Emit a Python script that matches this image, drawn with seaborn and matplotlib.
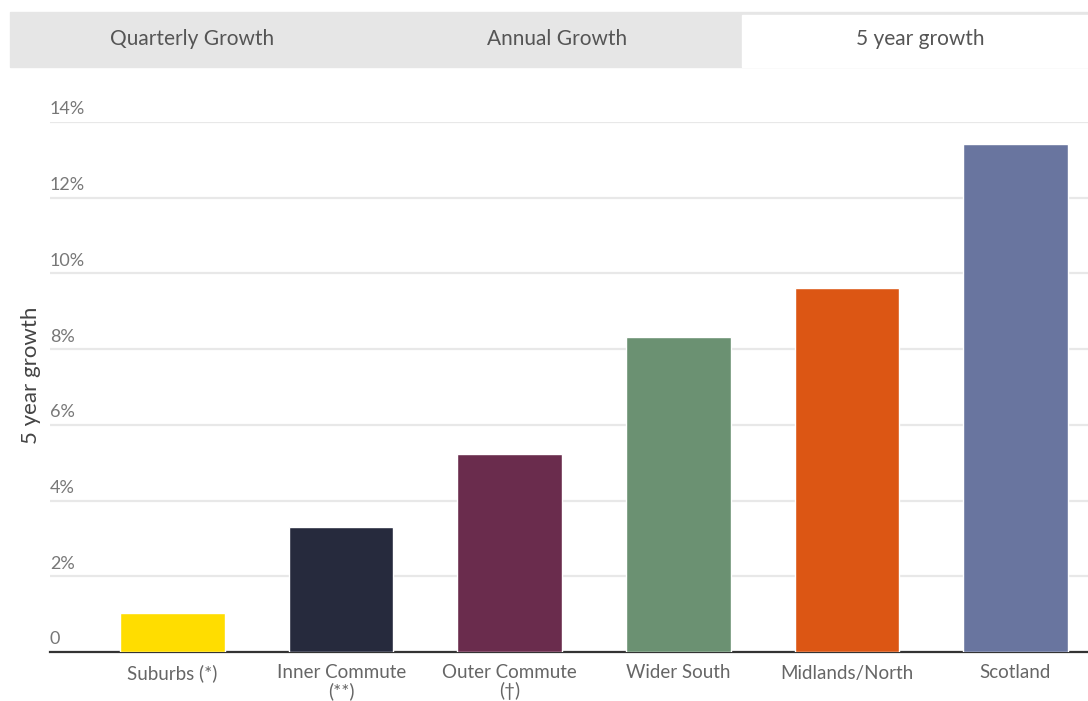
import matplotlib.pyplot as plt
import matplotlib.patches as mpatches
import seaborn as sns
import pandas as pd

# data
regions = ['Suburbs (*)', 'Inner Commute\n(**)', 'Outer Commute\n(\u2020)', 'Wider South', 'Midlands/North', 'Scotland']
growth = [1.03, 3.30, 5.23, 8.32, 9.61, 13.42]
colours = ['#FFDD00', '#262A3D', '#6A2C4D', '#6B9172', '#DC5614', '#69759F']
tabs = ['Quarterly Growth', 'Annual Growth', '5 year growth']
yticks = [0, 2, 4, 6, 8, 10, 12, 14]
ytick_labels = ['0', '2%', '4%', '6%', '8%', '10%', '12%', '14%']

df = pd.DataFrame({'region': regions, 'growth': growth})

sns.set_style('white')
plt.rcParams['font.family'] = ['Lato', 'DejaVu Sans']

fig = plt.figure(figsize=(10.88, 7.01), dpi=100)
W, H = 1088, 701

# tab bar on top
fig.patches.append(mpatches.Rectangle((10 / W, 1 - 67 / H), (W - 10) / W, 55 / H,
                                      transform=fig.transFigure, color='#e6e6e6', zorder=0))
fig.patches.append(mpatches.Rectangle((742 / W, 1 - 67 / H), (W - 742) / W, 52 / H,
                                      transform=fig.transFigure, color='white', zorder=1))
for t, xc in zip(tabs, [192, 557, 920]):
    fig.text(xc / W, 1 - 39 / H, t, ha='center', va='center', fontsize=15, color='#555555')

ax = fig.add_axes([50 / W, 1 - 652 / H, 1 - 50 / W, (652 - 122) / H])
sns.barplot(data=df, x='region', y='growth', hue='region', palette=colours,
            width=0.62, saturation=1, legend=False, ax=ax, zorder=3)

ax.set_xlim(-0.727, 5.43)
ax.set_ylim(0, 14)
ax.set_yticks(yticks)
ax.set_yticklabels([])
ax.tick_params(axis='y', length=0)
ax.tick_params(axis='x', length=0, labelsize=13.5, labelcolor='#666666', pad=9)
for lab in ax.get_xticklabels():
    lab.set_linespacing(1.05)
for v, lab in zip(yticks, ytick_labels):
    ax.text(0, v + 0.12, lab, transform=ax.get_yaxis_transform(), ha='left', va='bottom',
            fontsize=13, color='#777777')
ax.grid(axis='y', color='#e8e8e8', linewidth=1.6, zorder=0)
ax.set_axisbelow(True)
for s in ['top', 'right', 'left']:
    ax.spines[s].set_visible(False)
ax.spines['bottom'].set_color('#333333')
ax.spines['bottom'].set_linewidth(1.6)
ax.set_xlabel('')
ax.set_ylabel('')
fig.text(31 / W, 1 - 375 / H, '5 year growth', rotation=90, ha='center', va='center',
         fontsize=16, color='#444444')

fig.savefig('out.png', dpi=100)
